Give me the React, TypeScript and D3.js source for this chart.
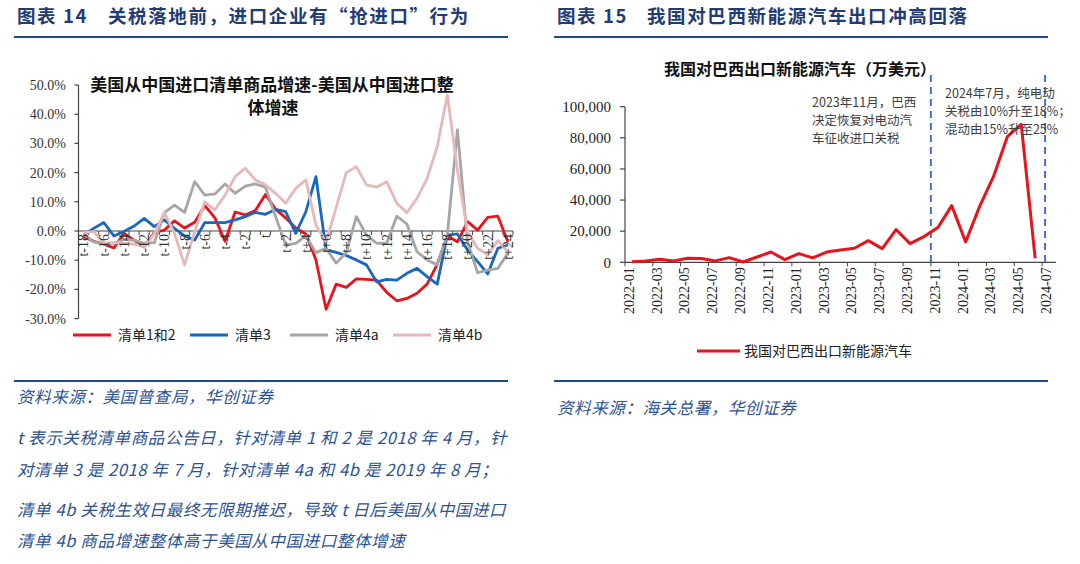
import * as d3 from 'd3';
import React from 'react';

const leftCats = [
  't-18', 't-17', 't-16', 't-15', 't-14', 't-13', 't-12', 't-11', 't-10', 't-9', 't-8',
  't-7', 't-6', 't-5', 't-4', 't-3', 't-2', 't-1', 't', 't+1', 't+2', 't+3', 't+4',
  't+5', 't+6', 't+7', 't+8', 't+9', 't+10', 't+11', 't+12', 't+13', 't+14', 't+15',
  't+16', 't+17', 't+18', 't+19', 't+20', 't+21', 't+22', 't+23', 't+24'
];
const leftTickLabels = [
  't-18', 't-16', 't-14', 't-12', 't-10', 't-8', 't-6', 't-4', 't-2', 't', 't+2', 't+4',
  't+6', 't+8', 't+10', 't+12', 't+14', 't+16', 't+18', 't+20', 't+22', 't+24'
];
const leftYTicks = [50, 40, 30, 20, 10, 0, -10, -20, -30];

const list12 = [
  -2, -3.5, -4.5, -5.8, -0.8, -3.1, -5.5, -0.5, 0.3, 3.5, 1, 3, 8.7, 4.5, -3.5, 6.5, 5.5, 7,
  12.5, 7.5, 4.5, 1, -1, -9.9, -26.8, -18.2, -19.3, -16.4, -16.6, -16.8, -21, -23.9, -23.1,
  -21.3, -18.2, -11.4, -1.7, -3.7, 3.2, 0.3, 4.7, 5.1, -3.8
];
const list3 = [
  -1.4, 0.9, 2.9, -1.7, -0.2, 1.7, 4.3, 1.5, 3.8, 0.9, -1.7, -3.1, 2.9, 2.9, 2.9, 3.8, 4.9,
  6.4, 5.7, 7.4, 6.6, -0.8, 6.6, 18.6, -6.5, -7.3, -8.4, -9.9, -11.6, -17.4, -16.6, -16.8,
  -14.5, -12.8, -15.6, -18.2, -1.4, -1.0, -6.5, -10.5, -14.7, -5.9, -4.8
];
const list4a = [
  -1, -3.7, -4.5, -4.2, -2.9, -3.1, -4.2, -4, 6.3, 8.9, 6.4, 16.9, 12.3, 12.7, 16.1, 12.9,
  15.4, 16.1, 15, 5, -4.8, -4.2, -1.7, -7.4, -5.9, -11, -7.4, 4.9, -1.4, -4.2, -4.2, 5.1,
  2.4, -7.1, -9.9, -11.6, -1.4, 34.6, -3.7, -14.3, -13.4, -12.8, -7.6
];
const list4b = [
  -0.6, -0.2, -4.2, -4, -4.2, -4.5, -5.4, -1, 6.3, -0.8, -11.6, -0.2, 10, 7.2, 12.3, 18.6,
  21.5, 17.5, 15.8, 12.9, 9.5, 14.6, 17.5, 2, -3.8, 8, 20, 22, 15.8, 15, 16.9, 9.5, 6.3, 11.2,
  18, 28.9, 46.6, 20.9, -0.2, -5.9, -8.2, -3.3, -7.1
];
const leftSeries = [
  { name: '清单1和2', values: list12, color: '#e8141c' },
  { name: '清单3', values: list3, color: '#1668c0' },
  { name: '清单4a', values: list4a, color: '#a6a6a6' },
  { name: '清单4b', values: list4b, color: '#e6b9b8' }
];

const rightCats = [
  '2022-01', '2022-02', '2022-03', '2022-04', '2022-05', '2022-06', '2022-07', '2022-08',
  '2022-09', '2022-10', '2022-11', '2022-12', '2023-01', '2023-02', '2023-03', '2023-04',
  '2023-05', '2023-06', '2023-07', '2023-08', '2023-09', '2023-10', '2023-11', '2023-12',
  '2024-01', '2024-02', '2024-03', '2024-04', '2024-05', '2024-06', '2024-07'
];
const rightTickLabels = [
  '2022-01', '2022-03', '2022-05', '2022-07', '2022-09', '2022-11', '2023-01', '2023-03',
  '2023-05', '2023-07', '2023-09', '2023-11', '2024-01', '2024-03', '2024-05', '2024-07'
];
const brazilEV = [
  400, 900, 1900, 900, 2600, 2400, 900, 3000, 200, 3400, 6600, 1700, 5600, 2800, 6600, 7900,
  9000, 13900, 8800, 21000, 12000, 16500, 22300, 36400, 13100, 35800, 55000, 80700, 88600, 2600
];
const rightYTicks = [0, 20000, 40000, 60000, 80000, 100000];
const markerMonths = ['2023-11', '2024-07'];

const SERIF = '"Times New Roman", "Liberation Serif", "Noto Sans CJK SC", serif';
const CJK = '"Noto Sans CJK SC", "Liberation Sans", sans-serif';
const NAVY = '#1f3c74';
const RULE = '#1f4a86';
const NOTE = '#2c5291';

const App = () => {
  const xL = d3.scaleBand<string>().domain(leftCats).range([78.5, 513]);
  const yL = d3.scaleLinear().domain([-30, 50]).range([318.6, 85]);
  const bwL = xL.bandwidth();
  const lineL = d3
    .line<number>()
    .x((_, i) => (xL(leftCats[i]) as number) + bwL / 2)
    .y((d) => yL(d));

  const xR = d3.scaleBand<string>().domain(rightCats).range([625, 1056]);
  const yR = d3.scaleLinear().domain([0, 100000]).range([262.3, 106.7]);
  const bwR = xR.bandwidth();
  const lineR = d3
    .line<number>()
    .x((_, i) => (xR(rightCats[i]) as number) + bwR / 2)
    .y((d) => yR(d));
  const fmt = d3.format(',');

  const y0 = yL(0);

  return (
    <svg
      width={1080}
      height={564}
      style={{ position: 'absolute', left: 0, top: 0, background: '#fff' }}
    >
      {/* headers */}
      <g fontFamily={CJK} fontWeight="bold" fill={NAVY} fontSize={18.5} letterSpacing={1.6}>
        <text x={17} y={23}>图表 14</text>
        <text x={108} y={23}>关税落地前，进口企业有“抢进口”行为</text>
        <text x={557} y={23}>图表 15</text>
        <text x={647} y={23}>我国对巴西新能源汽车出口冲高回落</text>
      </g>
      <line x1={14} x2={508} y1={37} y2={37} stroke={RULE} strokeWidth={2.2} />
      <line x1={554} x2={1048} y1={37} y2={37} stroke={RULE} strokeWidth={2.2} />
      <line x1={14} x2={508} y1={381} y2={381} stroke={RULE} strokeWidth={2.2} />
      <line x1={554} x2={1048} y1={381} y2={381} stroke={RULE} strokeWidth={2.2} />

      {/* left chart */}
      <g>
        <text x={272} y={91} textAnchor="middle" fontFamily={CJK} fontWeight="bold" fontSize={17} fill="#111">
          美国从中国进口清单商品增速-美国从中国进口整
        </text>
        <text x={273} y={114} textAnchor="middle" fontFamily={CJK} fontWeight="bold" fontSize={17} fill="#111">
          体增速
        </text>
        <line x1={78.5} x2={78.5} y1={yL(50)} y2={yL(-30)} stroke="#444" strokeWidth={1.2} />
        {leftYTicks.map((t) => (
          <g key={t}>
            <line x1={74.5} x2={78.5} y1={yL(t)} y2={yL(t)} stroke="#444" strokeWidth={1.2} />
            <text x={66} y={yL(t)} dy="0.35em" textAnchor="end" fontFamily={SERIF} fontSize={14} fill="#333">
              {t.toFixed(1) + '%'}
            </text>
          </g>
        ))}
        <line x1={78.5} x2={513} y1={y0} y2={y0} stroke="#444" strokeWidth={1.2} />
        {leftCats.map((c) => (
          <line key={c} x1={(xL(c) as number) + bwL} x2={(xL(c) as number) + bwL} y1={y0} y2={y0 + 4} stroke="#444" strokeWidth={1} />
        ))}
        {leftSeries.map((s) => (
          <path key={s.name} d={lineL(s.values) as string} fill="none" stroke={s.color} strokeWidth={2.8} strokeLinejoin="round" />
        ))}
        {leftTickLabels.map((c) => (
          <text
            key={c}
            transform={`translate(${(xL(c) as number) + bwL / 2},${y0 + 3}) rotate(-90)`}
            textAnchor="end"
            dy="0.35em"
            fontFamily={SERIF}
            fontSize={14}
            fill="#333"
          >
            {c}
          </text>
        ))}
        {leftSeries.map((s, i) => {
          const lx = [73, 190, 290, 393][i];
          return (
            <g key={s.name}>
              <line x1={lx} x2={lx + 38} y1={335} y2={335} stroke={s.color} strokeWidth={3} />
              <text x={lx + 45} y={335} dy="0.35em" fontFamily={CJK} fontSize={14} fill="#222">
                {s.name}
              </text>
            </g>
          );
        })}
      </g>

      {/* right chart */}
      <g>
        <text x={800} y={75} textAnchor="middle" fontFamily={CJK} fontWeight="bold" fontSize={16} fill="#111">
          我国对巴西出口新能源汽车（万美元）
        </text>
        <line x1={625} x2={625} y1={yR(100000)} y2={yR(0)} stroke="#444" strokeWidth={1.2} />
        {rightYTicks.map((t) => (
          <g key={t}>
            <line x1={620} x2={625} y1={yR(t)} y2={yR(t)} stroke="#444" strokeWidth={1.2} />
            <text x={611} y={yR(t)} dy="0.35em" textAnchor="end" fontFamily={SERIF} fontSize={15} fill="#222">
              {fmt(t)}
            </text>
          </g>
        ))}
        <line x1={625} x2={1056} y1={yR(0)} y2={yR(0)} stroke="#444" strokeWidth={1.2} />
        {rightCats.map((c, i) =>
          i % 2 === 0 ? (
            <line key={c} x1={xR(c) as number} x2={xR(c) as number} y1={yR(0)} y2={yR(0) + 4} stroke="#444" strokeWidth={1} />
          ) : null
        )}
        {rightTickLabels.map((c) => (
          <text
            key={c}
            transform={`translate(${(xR(c) as number) + bwR / 2 - 3},${yR(0) + 5}) rotate(-90)`}
            textAnchor="end"
            dy="0.35em"
            fontFamily={SERIF}
            fontSize={14}
            fill="#222"
          >
            {c}
          </text>
        ))}
        {markerMonths.map((m, i) => (
          <line
            key={m}
            x1={(xR(m) as number) + i * 3}
            x2={(xR(m) as number) + i * 3}
            y1={75}
            y2={yR(0)}
            stroke="#4472c4"
            strokeWidth={2}
            strokeDasharray="7,5"
          />
        ))}
        <path d={lineR(brazilEV) as string} fill="none" stroke="#e8141c" strokeWidth={3} strokeLinejoin="round" />
        <g fontFamily={CJK} fontSize={12.5} fill="#404040">
          <text x={812} y={107}>2023年11月，巴西</text>
          <text x={812} y={125}>决定恢复对电动汽</text>
          <text x={812} y={143}>车征收进口关税</text>
          <text x={945} y={98}>2024年7月，纯电动</text>
          <text x={945} y={116}>关税由10%升至18%；</text>
          <text x={945} y={134}>混动由15%升至25%</text>
        </g>
        <line x1={697} x2={740} y1={351} y2={351} stroke="#e8141c" strokeWidth={3} />
        <text x={744} y={351} dy="0.35em" fontFamily={CJK} fontSize={14} fill="#222">
          我国对巴西出口新能源汽车
        </text>
      </g>

      {/* notes */}
      <g fontFamily={CJK} fontStyle="italic" fontSize={16.5} fill={NOTE} letterSpacing={0.6}>
        <text x={17} y={403}>资料来源：美国普查局，华创证券</text>
        <text x={17} y={444}>t 表示关税清单商品公告日，针对清单 1 和 2 是 2018 年 4 月，针</text>
        <text x={17} y={476}>对清单 3 是 2018 年 7 月，针对清单 4a 和 4b 是 2019 年 8 月；</text>
        <text x={17} y={516}>清单 4b 关税生效日最终无限期推迟，导致 t 日后美国从中国进口</text>
        <text x={17} y={547}>清单 4b 商品增速整体高于美国从中国进口整体增速</text>
        <text x={557} y={414}>资料来源：海关总署，华创证券</text>
      </g>
    </svg>
  );
};

export default App;
